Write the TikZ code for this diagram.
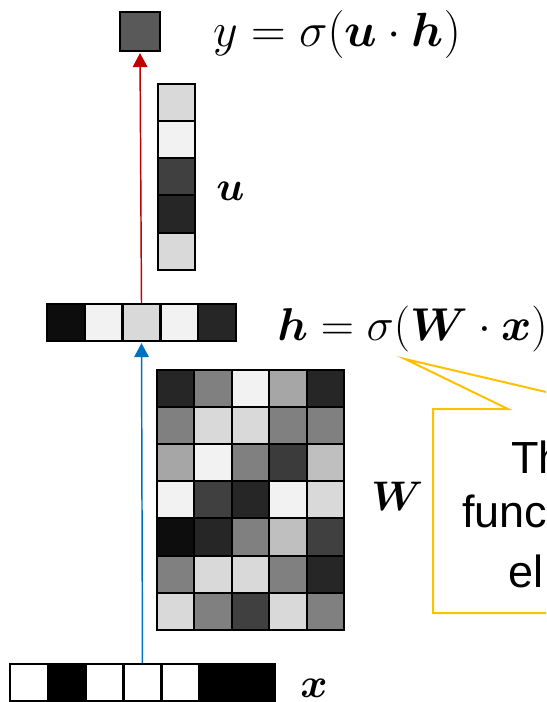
\documentclass[tikz,border=0pt]{standalone}
\usepackage{fix-cm}
\usepackage{fontspec}
\usepackage{bm}
\newfontfamily\notefont{Liberation Sans}
\usetikzlibrary{arrows.meta}
\definecolor{arrred}{HTML}{C00000}
\definecolor{arrblue}{HTML}{0070C0}
\definecolor{noteyellow}{HTML}{FFC000}
\begin{document}
\begin{tikzpicture}[x=0.75pt,y=-0.75pt,
  cell/.style={draw=black,line width=1.5pt,inner sep=0pt,minimum size=28.1pt},
  eqlabel/.style={inner sep=0pt,anchor=base west,font=\fontsize{34.5}{40}\selectfont},
  veclabel/.style={inner sep=0pt,anchor=base west,font=\fontsize{31}{36}\selectfont},
  notetext/.style={inner sep=0pt,anchor=base west,font=\notefont\fontsize{33.75}{40}\selectfont},
  flow/.style={line width=1.1pt,shorten >=0.7pt,-{Triangle[width=11pt,length=10.5pt]}}]
\useasboundingbox (0,0) rectangle (546,702);
\clip (0,0) rectangle (546,702);
\node[cell,minimum size=29.5pt,fill=black!65] (yout) at (140,31.5) {};
\foreach \v [count=\i] in {15,5,75,85,15}
  \node[cell,fill=black!\v] (u\i) at (176.5,{102.6+37.2*(\i-1)}) {};
\foreach \v [count=\i] in {95,5,15,5,85}
  \node[cell,fill=black!\v] (h\i) at ({65.9+37.8*(\i-1)},322.5) {};
\foreach \row [count=\r] in {{85,50,5,35,85},{50,15,15,50,50},{35,5,50,77,25},
    {5,75,85,5,15},{95,85,50,25,75},{50,15,15,50,85},{15,50,75,15,50}}
  \foreach \v [count=\c] in \row
    \node[cell,fill=black!\v] (W\r\c) at ({175.7+37.4*(\c-1)},{388.6+37.14*(\r-1)}) {};
\foreach \v [count=\i] in {0,100,0,0,0,100,100}
  \node[cell,fill=black!\v] (x\i) at ({28.9+37.86*(\i-1)},682.5) {};
\draw[flow,arrred] (h3.north) -- (yout.south);
\draw[flow,arrblue] (x4.north) -- (h3.south);
\node[eqlabel,font=\fontsize{36}{42}\selectfont] (yeq) at (213,47) {$y=\sigma(\bm{u}\cdot\bm{h})$};
\node[eqlabel] (heq) at (277,340) {$\bm{h}=\sigma(\bm{W}\cdot\bm{x})$};
\node[veclabel] (ulab) at (216,200) {$\bm{u}$};
\node[veclabel] (Wlab) at (371,510) {$\bm{W}$};
\node[veclabel] (xlab) at (300,697) {$\bm{x}$};
\draw[noteyellow,line width=1.5pt] (433,409) -- (508,409) -- (405,359) -- (619,409)
  -- (860,409) -- (860,613) -- (433,613) -- cycle;
\node[notetext] (note1) at (511,473) {Th};
\node[notetext] (note2) at (462,527) {func};
\node[notetext] (note3) at (508,587) {el};
\end{tikzpicture}
\end{document}
